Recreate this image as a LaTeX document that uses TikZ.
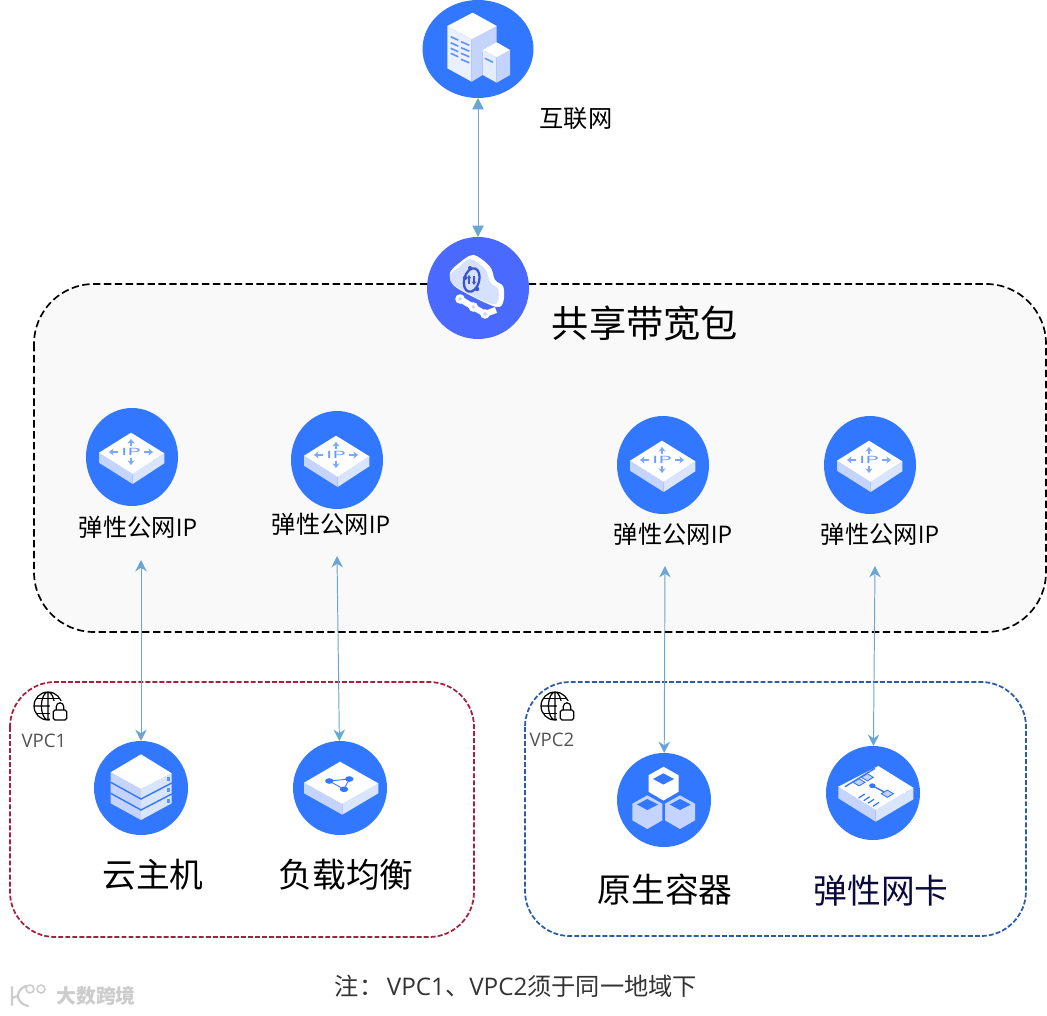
\documentclass[tikz,border=0pt]{standalone}
\usepackage{fontspec}
\setmainfont{Noto Sans CJK SC}
\newfontfamily\latinfont{Open Sans}
\usetikzlibrary{arrows.meta,shapes.geometric}
\definecolor{iconblue}{HTML}{3277FF}
\definecolor{cloudblue}{HTML}{4A69FF}
\definecolor{ringblue}{HTML}{3A55D0}
\definecolor{arrowblue}{HTML}{6BA5D3}
\definecolor{sideleft}{HTML}{C4D4FF}
\definecolor{sideright}{HTML}{D9E4FF}
\definecolor{vpcred}{HTML}{A5213F}
\definecolor{vpcblue}{HTML}{2A5CAA}
\tikzset{
    disc/.style 2 args={shape=ellipse, fill=iconblue, inner sep=0, outer sep=0, minimum width=#1*0.02cm, minimum height=#2*0.02cm},
    link/.style={draw=arrowblue, line width=.55pt, {Stealth[length=6.5pt,width=6.5pt]}-{Stealth[length=6.5pt,width=6.5pt]}},
    iptitle/.style={font=\fontsize{13.8pt}{15pt}\selectfont, inner sep=0},
    bigtitle/.style={font=\fontsize{19.2pt}{22pt}\selectfont, inner sep=0},
    vpcname/.style={font=\fontsize{10.6pt}{12pt}\latinfont, text=black!68, inner sep=0},
    vpcframe/.style={dash pattern=on 2.8pt off 1.2pt, line width=1pt, rounded corners=.9cm},
    pics/ipicon/.style={code={
        \fill[sideleft] (-33,-4.3) -- (.7,17) -- (.7,27) -- (-33,5.7) -- cycle;
        \fill[sideright] (32.3,-3.7) -- (.7,17) -- (.7,27) -- (32.3,6.3) -- cycle;
        \fill[white] (-1,-24.3) -- (32.3,-3.7) -- (.7,17) -- (-33,-4.3) -- cycle;
        \node[text=iconblue!75, font=\fontsize{8pt}{8pt}\latinfont, xscale=1.6, yscale=.72, inner sep=0] (-ip) at (-1,-5) {IP};
        \draw[iconblue!65, line width=.6pt, -{Stealth[length=2.6pt,width=4pt]}] (-1,-11) -- (-1,-18);
        \draw[iconblue!65, line width=.6pt, -{Stealth[length=2.6pt,width=4pt]}] (-1,1) -- (-1,8);
        \draw[iconblue!65, line width=.6pt, -{Stealth[length=2.6pt,width=4pt]}] (-14,-5) -- (-23,-5);
        \draw[iconblue!65, line width=.6pt, -{Stealth[length=2.6pt,width=4pt]}] (12,-5) -- (21,-5);
    }},
    pics/towericon/.style={code={
        \fill[sideleft!35] (-30.7,-23) -- (-6.3,-9.7) -- (-6.3,32.7) -- (-30.7,19.3) -- cycle;
        \fill[sideleft] (-6.3,-9.7) -- (18.7,-23) -- (18.7,-5) -- (4.7,3) -- (4.7,26) -- (-6.3,32.7) -- cycle;
        \fill[white] (-5.3,-36.3) -- (18.7,-23) -- (-6.3,-9.7) -- (-30.7,-23) -- cycle;
        \fill[sideleft!45] (4.7,1) -- (18.7,8.3) -- (18.7,33.7) -- (4.7,26) -- cycle;
        \fill[sideleft] (18.7,8.3) -- (32,1) -- (32,26) -- (18.7,33.7) -- cycle;
        \fill[white] (18.7,-6.7) -- (32,1) -- (18.7,8.3) -- (4.7,1) -- cycle;
        \foreach \a in {-12.3,-6.3,-.7,4.3} {\draw[iconblue!80, line width=.9pt] (-27.3,\a) -- (-19.7,\a+3.5);}
        \foreach \a in {-7.3,-1.3,4.3,10.3} {\draw[iconblue!80, line width=.9pt] (-17,\a) -- (-8.7,\a+3.5);}
        \draw[iconblue!80, line width=.9pt] (7,9.3) -- (15,13.3);
    }},
    pics/cloudicon/.style={code={
        \draw[white, line width=3.5pt] (-18,11) -- (-4.7,19) -- (7,26) -- (18,22);
        \foreach \a/\b in {-18/11,-4.7/19,7/26} {\fill[white] (\a,\b) circle (4.8); \fill[sideleft] (\a,\b) circle (1.8);}
        \fill[white] plot[smooth cycle, tension=.55] coordinates {(-28,-15) (-20,-24) (-4.7,-33) (12,-21.3) (17,-8) (25.3,-1.3) (25.3,13.7) (18.7,19) (-4.7,9) (-24.7,-3)};
        \fill[sideleft!70] plot[smooth cycle, tension=.55] coordinates {(-28,-13) (-20,-20) (-8,-29) (7,-19) (12,-6) (20,1) (20,13) (14,16) (-7,7) (-25,-4)};
        \draw[ringblue, line width=1.3pt, rotate around={-15:(-6.3,-8)}] (-6.3,-8) ellipse (7.5 and 12);
        \draw[ringblue, line width=.7pt, -{Stealth[length=2pt,width=2.6pt]}] (-9,-4) -- (-9,-13);
        \draw[ringblue, line width=.7pt, -{Stealth[length=2pt,width=2.6pt]}] (-4,-12) -- (-4,-3);
        \fill[ringblue] (-13,-10) circle (2.2) (-1,1) circle (2.2) (-8,-20) circle (2);
    }},
    pics/servericon/.style={code={
        \fill[sideleft] (-30.3,-15.7) -- (0,1) -- (0,32) -- (-30.3,15.3) -- cycle;
        \fill[sideright] (30.7,-14.7) -- (0,1) -- (0,32) -- (30.7,15.3) -- cycle;
        \fill[white] (0,-33.7) -- (30.7,-14.7) -- (0,1) -- (-30.3,-15.7) -- cycle;
        \foreach \a in {0,11} {\draw[iconblue, line width=.8pt] (-30.3,-5.7+\a) -- (0,11+\a) -- (30.7,-5+\a);}
        \foreach \a in {0,11,22} {\fill[iconblue!80] (26,-11.5+\a) rectangle (29,-7.5+\a);}
    }},
    pics/balanceicon/.style={code={
        \fill[sideleft] (-36,-5.3) -- (2.3,16) -- (2.3,26.7) -- (-36,5.3) -- cycle;
        \fill[sideright] (38.3,-4.7) -- (2.3,16) -- (2.3,26.7) -- (38.3,5.3) -- cycle;
        \fill[white] (0,-26.3) -- (38.3,-4.7) -- (2.3,16) -- (-36,-5.3) -- cycle;
        \draw[iconblue, line width=.5pt] (-10.7,-7) -- (9.3,-9) -- (4,1.3) -- cycle;
        \foreach \a/\b in {-10.7/-7,9.3/-9,4/1.3} {\fill[iconblue] (\a,\b) ellipse (4.2 and 2.8);}
    }},
    pics/cube/.style={code={
        \fill[#1] (0,-16.7) -- (15,-8.3) -- (15,8.3) -- (0,17) -- (-15,8.3) -- (-15,-8.3) -- cycle;
    }},
    pics/containericon/.style={code={
        \pic at (-.5,-16.5) {cube=white}; \pic at (-16.7,12) {cube=sideleft}; \pic at (16,12) {cube=sideleft};
        \fill[iconblue] (-.7,-26.7) -- (10,-21) -- (-.7,-15.5) -- (-11,-21) -- cycle;
        \fill[iconblue] (-16.7,-1) -- (-6,4.5) -- (-16.7,10) -- (-27,4.5) -- cycle;
        \fill[iconblue] (16,-1) -- (26.7,4.5) -- (16,10) -- (5.7,4.5) -- cycle;
    }},
    pics/nicicon/.style={code={
        \fill[sideleft] (-34.7,-6.3) -- (2.7,17) -- (2.7,28.7) -- (-34.7,5.3) -- cycle;
        \fill[sideright] (40.3,-5.3) -- (2.7,17) -- (2.7,28.7) -- (40.3,6.3) -- cycle;
        \fill[white] (5.3,-27) -- (40.3,-5.3) -- (2.7,17) -- (-34.7,-6.3) -- cycle;
        \draw[iconblue, line width=.8pt] (-28,-6.3) -- (2,-24.7) (-.7,-7.3) -- (14.3,.7);
        \foreach \a/\b in {-14/-10.7,-5.7/-15.7,14.3/.7} {\filldraw[fill=sideleft, draw=iconblue, line width=.5pt] (\a-6,\b) -- (\a,\b-3.6) -- (\a+6,\b) -- (\a,\b+3.6) -- cycle;}
        \fill[iconblue] (-.7,-7.3) ellipse (3.2 and 2.4);
        \foreach \a/\b in {-11.3/3,-6.3/5.7,-2/8.3,3/11.3} {\draw[iconblue, line width=.7pt] (\a-3,\b+2) -- (\a+3,\b-2);}
    }},
    pics/globeicon/.style={code={
        \draw[black, line width=.7pt] (0,0) circle (14) (0,0) ellipse (6.5 and 14) (0,-14) -- (0,14) (-14,0) -- (14,0);
        \draw[black, line width=.7pt] (-11.5,-7.5) -- (11.5,-7.5) (-11.5,7.5) -- (11.5,7.5);
        \filldraw[fill=white, draw=white, line width=1.5pt] (3,-4) rectangle (21,16);
        \filldraw[fill=white, draw=black, line width=.7pt, rounded corners=1pt] (5.3,4) rectangle (18.7,14);
        \draw[black, line width=.7pt] (8.3,4) -- (8.3,.5) arc (180:360:3.7) -- (15.7,4);
    }},
}
\begin{document}
\begin{tikzpicture}[x=0.02cm, y=-0.02cm]
    \useasboundingbox (0,0) rectangle (1047,1016);
    \draw[dash pattern=on 4.2pt off 2pt, line width=.95pt, fill=black!2.5, rounded corners=1.2cm] (34,284) rectangle (1046,632);
    \draw[vpcred, vpcframe] (10,682) rectangle (474,937);
    \draw[vpcblue, vpcframe] (525,682) rectangle (1026,936);
    % icons
    \node[disc={111}{98}] (internet) at (478,49) {}; \node[disc={102}{102}, fill=cloudblue] (bandwidth) at (478,288) {};
    \foreach \name/\px/\py in {ipa/132/457, ipb/337/460, ipc/663/465, ipd/870/465} {
        \node[disc={92}{98}] (\name) at (\px,\py) {};
        \pic (\name icon) at (\name) {ipicon};
    }
    \node[disc={94}{94}] (host) at (141,788) {}; \node[disc={94}{94}] (balancer) at (340,788) {};
    \node[disc={94}{94}] (container) at (664,800) {}; \node[disc={94}{94}] (nic) at (873,793) {};
    \pic at (internet) {towericon}; \pic at (bandwidth) {cloudicon}; \pic at (host) {servericon};
    \pic at (balancer) {balanceicon}; \pic at (container) {containericon}; \pic at (nic) {nicicon};
    \pic at (48,706) {globeicon}; \pic at (555,706) {globeicon};
    % texts
    \node[iptitle] (internetname) at (576,119) {互联网};
    \node[font=\fontsize{21.2pt}{24pt}\selectfont, inner sep=0] (bandwidthname) at (645,323) {共享带宽包};
    \node[iptitle] (ipaname) at (138,527) {弹性公网{\latinfont IP}};
    \node[iptitle] (ipbname) at (331,524) {弹性公网{\latinfont IP}};
    \node[iptitle] (ipcname) at (673,534) {弹性公网{\latinfont IP}};
    \node[iptitle] (ipdname) at (880,534) {弹性公网{\latinfont IP}};
    \node[bigtitle] (hostname) at (153,875) {云主机}; \node[bigtitle] (balancername) at (346,875) {负载均衡};
    \node[bigtitle] (containername) at (665,890) {原生容器}; \node[bigtitle, text={rgb,255:red,10;green,10;blue,60}] (nicname) at (881,891) {弹性网卡};
    \node[vpcname] (vpcaname) at (44,741) {VPC1}; \node[vpcname] (vpcbname) at (552,740) {VPC2};
    \node[iptitle, text=black!80] (note) at (516,986) {注：\hspace{2pt}{\latinfont VPC1}、{\latinfont VPC2}须于同一地域下};
    \node[font=\fontsize{11.3pt}{13pt}\selectfont\bfseries, text=black!20, inner sep=0] (mark) at (96,996) {大数跨境};
    \draw[black!20, line width=1.3pt, line cap=round] (12,987) -- (12,1005) (26,986) .. controls (15,990) and (15,1003) .. (28,1006) (18,996) -- (12,998);
    \draw[black!20, line width=.9pt] (30,989) circle (4) (41,989) circle (4);
    % links
    \coordinate (tipa) at (141,560); \coordinate (tipb) at (337,556); \coordinate (tipc) at (665,566); \coordinate (tipd) at (875,566);
    \draw[draw=arrowblue, line width=.55pt, {Triangle[length=6.5pt,width=6.5pt]}-{Triangle[length=6.5pt,width=6.5pt]}] (internet) -- (bandwidth);
    \draw[link] (tipa) -- (host); \draw[link] (tipb) -- (balancer); \draw[link] (tipc) -- (container); \draw[link] (tipd) -- (nic);
\end{tikzpicture}
\end{document}
